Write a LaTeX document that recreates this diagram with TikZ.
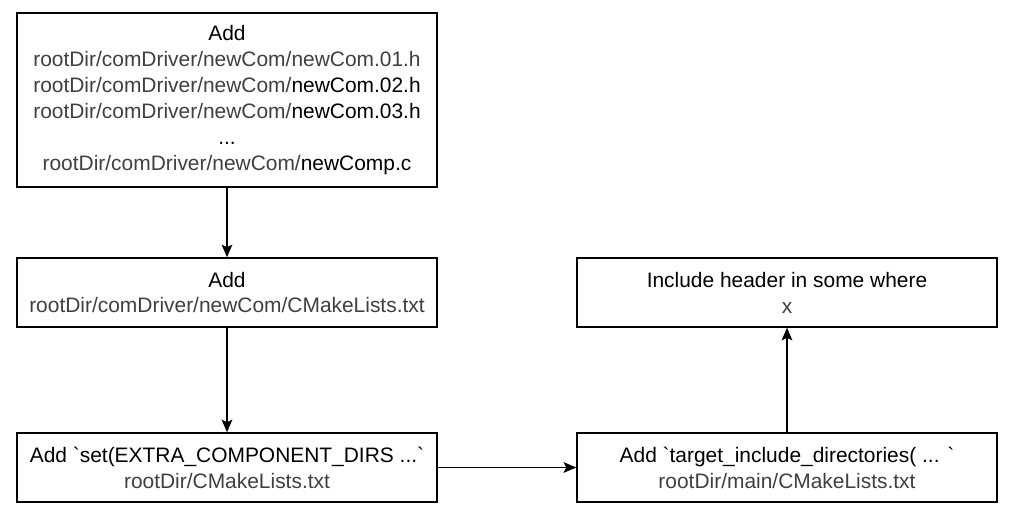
\documentclass[tikz,border=0pt]{standalone}
\usepackage{fontspec}
\setmainfont{Liberation Sans}[Ligatures=TeXOff]
\usetikzlibrary{arrows.meta}
\definecolor{pathgray}{HTML}{404040}
\newcommand{\gp}[1]{\textcolor{pathgray}{#1}}
\tikzset{
  box/.style={draw=black, line width=1.1pt, fill=white, minimum width=315pt, align=center, inner sep=0pt,
    font=\fontsize{15.7pt}{19.4pt}\selectfont},
  conn/.style={draw=black, line width=1.1pt, -{Stealth[length=9.5pt,width=8pt,inset=2pt]}},
}
\begin{document}
\begin{tikzpicture}[x=0.75pt,y=-0.75pt]
\useasboundingbox (0,0) rectangle (1025,518);
\node[box, minimum height=130.5pt] (files) at (227,100) {Add\\
\gp{rootDir/comDriver/newCom/newCom.01.h}\\
\gp{rootDir/comDriver/newCom/}newCom.02.h\\
\gp{rootDir/comDriver/newCom/}newCom.03.h\\
...\\
\gp{rootDir/comDriver/newCom/}newComp.c};
\node[box, minimum height=51.75pt] (cml) at (227,292.5) {Add\\\gp{rootDir/comDriver/newCom/CMakeLists.txt}};
\node[box, minimum height=51.75pt] (root) at (227,467.5) {Add `set(EXTRA\_COMPONENT\_DIRS ...`\\\gp{rootDir/CMakeLists.txt}};
\node[box, minimum height=51.75pt] (main) at (787,467.5) {Add `target\_include\_directories( ... `\\\gp{rootDir/main/CMakeLists.txt}};
\node[box, minimum height=51.75pt] (hdr) at (787,292.5) {Include header in some where\\\gp{x}};
\draw[conn] (files) -- (cml);
\draw[conn] (cml) -- (root);
\draw[conn] (root) -- (main);
\draw[conn] (main) -- (hdr);
\end{tikzpicture}
\end{document}
